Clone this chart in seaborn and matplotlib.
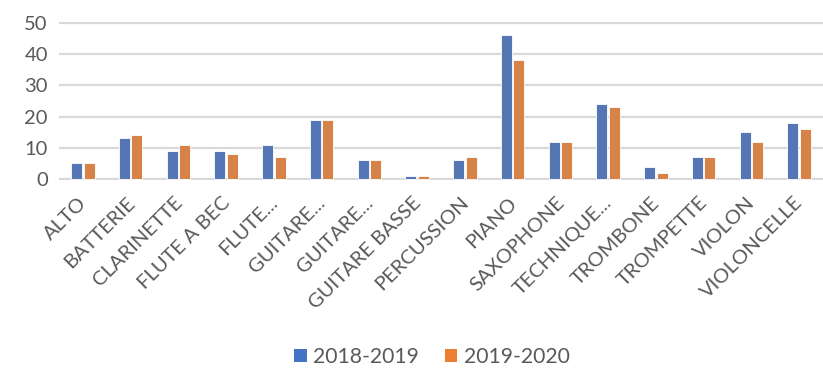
import matplotlib
matplotlib.use("Agg")
import matplotlib.pyplot as plt
import matplotlib.transforms as mtransforms
from matplotlib.patches import Patch
import seaborn as sns
import pandas as pd

instruments = ["ALTO", "BATTERIE", "CLARINETTE", "FLUTE A BEC", "FLUTE...",
               "GUITARE...", "GUITARE...", "GUITARE BASSE", "PERCUSSION", "PIANO",
               "SAXOPHONE", "TECHNIQUE...", "TROMBONE", "TROMPETTE", "VIOLON",
               "VIOLONCELLE"]
season_2018_2019 = [5, 13, 9, 9, 11, 19, 6, 1, 6, 46, 12, 24, 4, 7, 15, 18]
season_2019_2020 = [5, 14, 11, 8, 7, 19, 6, 1, 7, 38, 12, 23, 2, 7, 12, 16]
seasons = ["2018-2019", "2019-2020"]
colors = ["#4472C4", "#ED7D31"]

sns.set_theme(style="white")
plt.rcParams["font.family"] = ["Lato", "DejaVu Sans"]

rows = []
for i, name in enumerate(instruments):
    rows.append({"pos": i, "season": seasons[0], "count": season_2018_2019[i]})
    rows.append({"pos": i, "season": seasons[1], "count": season_2019_2020[i]})
df = pd.DataFrame(rows)

fig = plt.figure(figsize=(8.23, 3.71), dpi=100)
ax = fig.add_axes([59 / 823, 1 - 180 / 371, 1 - 59 / 823, (180 - 22) / 371])

sns.barplot(data=df, x="pos", y="count", hue="season", palette=colors,
            width=0.52, gap=0.12, edgecolor="white", linewidth=0.6,
            legend=False, ax=ax)

ax.set_xlim(-0.5, len(instruments) - 0.5)
ax.set_ylim(-0.3, 50.3)
ax.set_yticks([0, 10, 20, 30, 40, 50])
ax.yaxis.grid(True, color="#d9d9d9", linewidth=1.6)
ax.set_axisbelow(True)
for s in ax.spines.values():
    s.set_visible(False)
ax.set_xlabel("")
ax.set_ylabel("")
ax.set_xticks(range(len(instruments)))
ax.set_xticklabels(instruments, rotation=45, ha="right", va="top",
                   rotation_mode="anchor", fontsize=14.5, color="#595959")
ax.tick_params(axis="x", length=0, pad=10)
ax.tick_params(axis="y", length=0, pad=8, labelsize=14.5, labelcolor="#595959")

# nudge the rotated category labels slightly to the left
shift = mtransforms.ScaledTranslation(-5 / 100, 0, fig.dpi_scale_trans)
for lbl in ax.get_xticklabels():
    lbl.set_transform(lbl.get_transform() + shift)

handles = [Patch(facecolor=c, edgecolor="none") for c in colors]
fig.legend(handles, seasons, loc="center", bbox_to_anchor=(432 / 823, 1 - 357 / 371),
           ncol=2, frameon=False, fontsize=15.2, labelcolor="#595959",
           handlelength=0.6, handleheight=0.6, handletextpad=0.3, columnspacing=1.2)

fig.savefig("out.png", dpi=100)
